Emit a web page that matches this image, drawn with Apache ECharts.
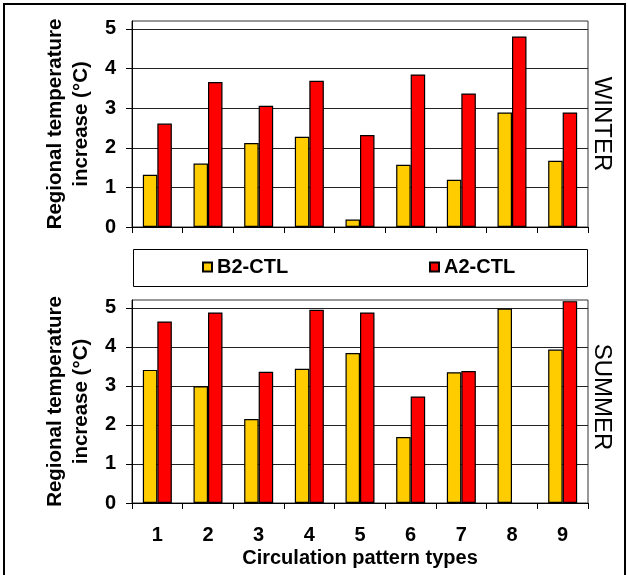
<!DOCTYPE html>
<html>
<head>
<meta charset="utf-8">
<script src="https://cdn.jsdelivr.net/npm/echarts@6/dist/echarts.min.js"></script>
<style>
  html, body { margin: 0; padding: 0; background: #fff; }
  #main { width: 628px; height: 575px; }
</style>
</head>
<body>
<div id="main"></div>
<script>
// circulation pattern types
const categories = ['1', '2', '3', '4', '5', '6', '7', '8', '9'];
const yTicks = [0, 1, 2, 3, 4, 5];

// WINTER
const winterB2 = [1.32, 1.60, 2.12, 2.28, 0.19, 1.57, 1.19, 2.89, 1.67];
const winterA2 = [2.61, 3.66, 3.06, 3.69, 2.32, 3.85, 3.37, 4.81, 2.89];

// SUMMER (no A2 bar for type 8)
const summerB2 = [3.41, 2.99, 2.15, 3.44, 3.84, 1.69, 3.35, 4.98, 3.93];
const summerA2 = [4.65, 4.88, 3.36, 4.95, 4.88, 2.73, 3.38, null, 5.17];

const FONT = '"Liberation Sans", Arial, sans-serif';
const yTitle = 'Regional temperature\nincrease (°C)';

function xAxis(gridIndex, showLabels) {
  return {
    type: 'category',
    gridIndex: gridIndex,
    data: categories,
    axisLine: { lineStyle: { color: '#000', width: 1 } },
    axisTick: { show: true, length: 6, alignWithLabel: false, lineStyle: { color: '#000' } },
    axisLabel: {
      show: showLabels, margin: 22,
      color: '#000', fontSize: 20, fontWeight: 'bold', fontFamily: FONT
    },
    name: showLabels ? 'Circulation pattern types' : '',
    nameLocation: 'middle',
    nameGap: 45,
    nameTextStyle: { color: '#000', fontSize: 20, fontWeight: 'bold', fontFamily: FONT }
  };
}

function yAxis(gridIndex) {
  return {
    type: 'value',
    gridIndex: gridIndex,
    min: 0, max: 5.2, interval: 1,
    axisLine: { show: true, lineStyle: { color: '#000' } },
    axisTick: { show: true, length: 6, customValues: yTicks, lineStyle: { color: '#000' } },
    axisLabel: {
      customValues: yTicks, margin: 16,
      color: '#000', fontSize: 20, fontWeight: 'bold', fontFamily: FONT
    },
    splitLine: { show: true, lineStyle: { color: '#222', width: 1 } },
    name: yTitle,
    nameLocation: 'middle',
    nameRotate: 90,
    nameGap: 37,
    nameTextStyle: {
      color: '#000', fontSize: 20.5, fontWeight: 'bold', fontFamily: FONT,
      lineHeight: 26, align: 'center'
    }
  };
}

function bar(name, data, idx, color) {
  return {
    name: name,
    type: 'bar',
    xAxisIndex: idx, yAxisIndex: idx,
    data: data,
    barWidth: 14.5,
    barGap: '0%',
    itemStyle: { color: color, borderColor: '#000', borderWidth: 1.2 }
  };
}

const legendText = { color: '#000', fontSize: 20, fontWeight: 'bold', fontFamily: FONT };

let option = {
  animation: false,
  backgroundColor: '#fff',
  grid: [
    { left: 132, top: 21, width: 456, height: 206, show: true, borderColor: '#333', borderWidth: 1 },
    { left: 132, top: 300, width: 456, height: 203, show: true, borderColor: '#333', borderWidth: 1 }
  ],
  legend: [
    { data: ['B2-CTL'], left: 202, top: 257, padding: 0, icon: 'rect', itemWidth: 9, itemHeight: 9, itemGap: 5, textStyle: legendText },
    { data: ['A2-CTL'], left: 429, top: 257, padding: 0, icon: 'rect', itemWidth: 9, itemHeight: 9, itemGap: 5, textStyle: legendText }
  ],
  xAxis: [xAxis(0, false), xAxis(1, true)],
  yAxis: [yAxis(0), yAxis(1)],
  series: [
    bar('B2-CTL', winterB2, 0, '#FFCC00'),
    bar('A2-CTL', winterA2, 0, '#FF0000'),
    bar('B2-CTL', summerB2, 1, '#FFCC00'),
    bar('A2-CTL', summerA2, 1, '#FF0000')
  ],
  graphic: [
    // outer frame
    { type: 'rect', silent: true, shape: { x: 4, y: 4, width: 621, height: 600 },
      style: { fill: 'transparent', stroke: '#000', lineWidth: 2 } },
    // legend box
    { type: 'rect', silent: true, shape: { x: 133.5, y: 249.5, width: 454, height: 37 },
      style: { fill: 'transparent', stroke: '#000', lineWidth: 1 } },
    { type: 'text', x: 602, y: 124, rotation: -Math.PI / 2,
      style: { text: 'WINTER', fontSize: 24, fontFamily: FONT, fill: '#000', align: 'center', verticalAlign: 'middle' } },
    { type: 'text', x: 602, y: 397, rotation: -Math.PI / 2,
      style: { text: 'SUMMER', fontSize: 24, fontFamily: FONT, fill: '#000', align: 'center', verticalAlign: 'middle' } }
  ]
};

let myChart = echarts.init(document.getElementById('main'));
myChart.setOption(option);
</script>
</body>
</html>
